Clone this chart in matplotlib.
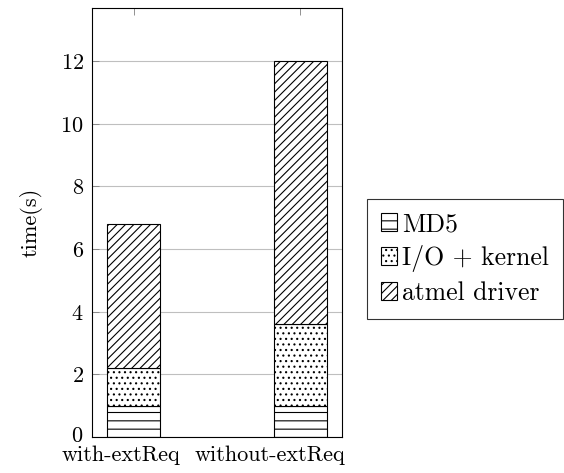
import matplotlib
matplotlib.use("Agg")
import matplotlib.pyplot as plt
import matplotlib.transforms as mtransforms
import numpy as np

plt.rcParams["font.family"] = "serif"
plt.rcParams["font.serif"] = ["cmr10", "DejaVu Serif"]
plt.rcParams["axes.formatter.use_mathtext"] = True
plt.rcParams["hatch.linewidth"] = 0.8

# data
categories = ["with-extReq", "without-extReq"]
md5 = [1.0, 1.0]
io_kernel = [1.2, 2.6]
atmel = [4.6, 8.4]
series_names = ["MD5", "I/O + kernel", "atmel driver"]
hatches = ["--", "...", "////"]

fig = plt.figure(figsize=(5.64, 4.73), dpi=100)
ax = fig.add_axes([92 / 564, 36 / 473, 250 / 564, 429 / 473])

x = np.arange(len(categories))
width = 0.32
bottom = np.zeros(len(categories))
for vals, name, h in zip([md5, io_kernel, atmel], series_names, hatches):
    ax.bar(x, vals, width, bottom=bottom, facecolor="white", edgecolor="black",
           hatch=h, linewidth=0.8, label=name, zorder=2)
    bottom += np.array(vals)

ax.set_xlim(-0.25, 1.25)
ax.set_ylim(0, 13.7)
ax.set_yticks(np.arange(0, 13, 2))
ax.set_xticks(x)
ax.set_xticklabels(categories)
ax.yaxis.grid(True, color="#bfbfbf", linewidth=0.8, zorder=0)
ax.set_axisbelow(True)
ax.tick_params(direction="in", labelsize=16, top=True, right=False, length=5,
               width=0.6, color="#808080")
ax.tick_params(axis="y", pad=6)
ax.tick_params(axis="x", pad=6)
ax.set_ylabel("time(s)", fontsize=16, labelpad=13)
for s in ax.spines.values():
    s.set_linewidth(0.8)

# shift x labels left a bit, like the original
for lab, dx in zip(ax.get_xticklabels(), [-13, -30]):
    lab.set_transform(lab.get_transform() +
                      mtransforms.ScaledTranslation(dx / 100, 0, fig.dpi_scale_trans))
# lift the "0" label a touch so it clears the category label
zero = ax.get_yticklabels()[0]
zero.set_transform(zero.get_transform() +
                   mtransforms.ScaledTranslation(0, 3 / 100, fig.dpi_scale_trans))

leg = ax.legend(loc="center left", bbox_to_anchor=(1.1, 0.415), fontsize=18.5,
                frameon=True, fancybox=False, edgecolor="black",
                handlelength=0.6, handleheight=0.7, handletextpad=0.2,
                borderpad=0.55, labelspacing=0.35, borderaxespad=0)
leg.get_frame().set_linewidth(0.8)

fig.savefig("out.png", dpi=100)
